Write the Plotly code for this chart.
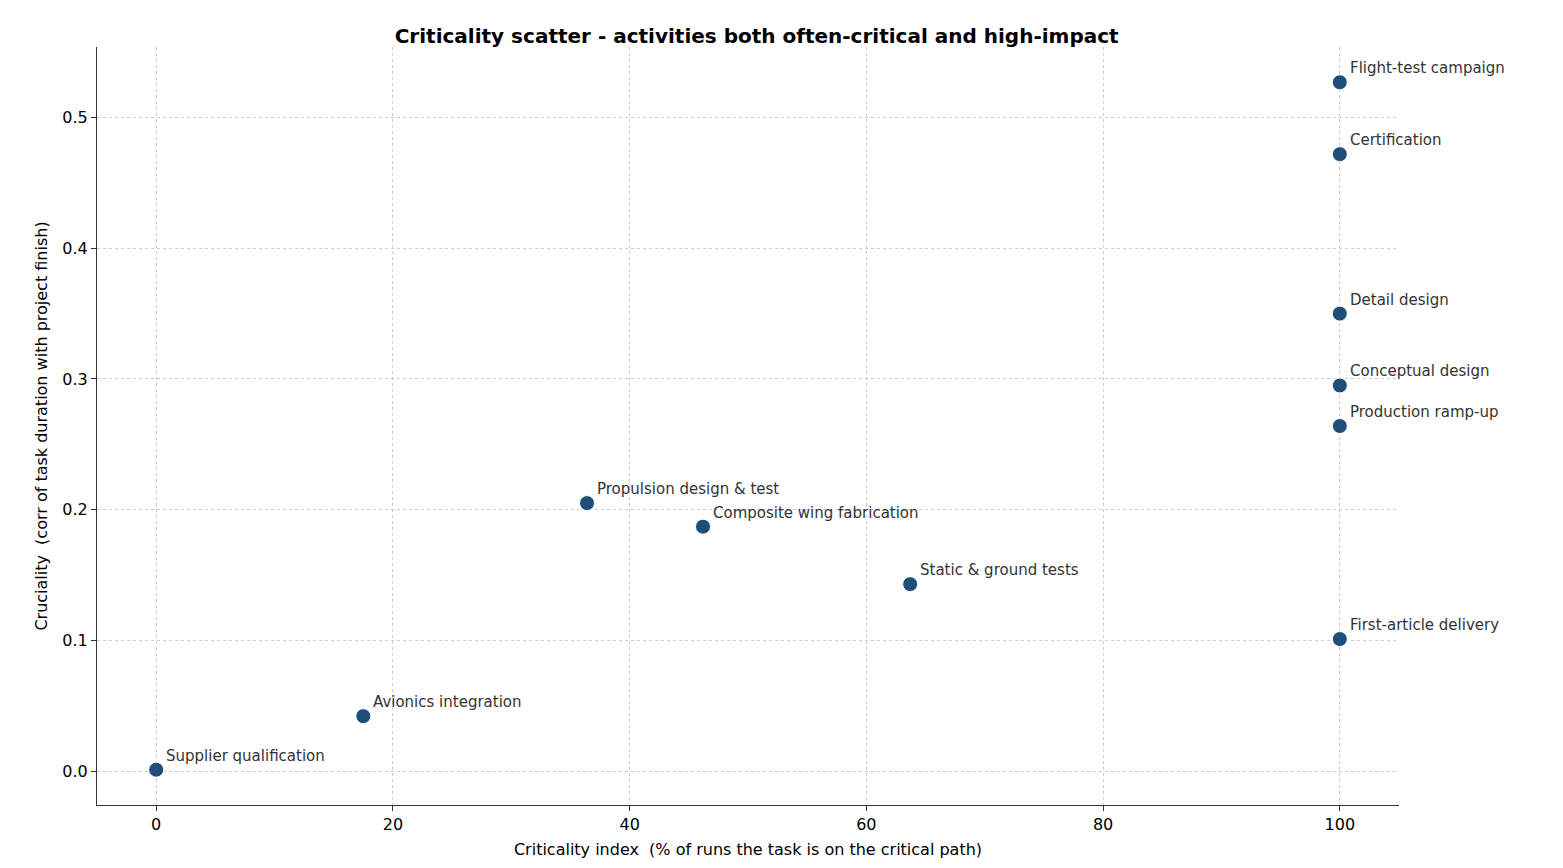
import plotly.graph_objects as go

tasks = ["Supplier qualification", "Avionics integration", "Propulsion design & test",
         "Composite wing fabrication", "Static & ground tests", "First-article delivery",
         "Production ramp-up", "Conceptual design", "Detail design", "Certification",
         "Flight-test campaign"]
crit_index = [0, 17.5, 36.4, 46.2, 63.7, 100, 100, 100, 100, 100, 100]
cruciality = [0.001, 0.042, 0.205, 0.187, 0.143, 0.101, 0.264, 0.295, 0.350, 0.472, 0.527]

fig = go.Figure()
fig.add_trace(go.Scatter(x=crit_index, y=cruciality, mode="markers",
                         marker=dict(size=15, color="#1f4e79", line=dict(color="white", width=1)),
                         hoverinfo="text", text=tasks))

for t, x, y in zip(tasks, crit_index, cruciality):
    fig.add_annotation(x=x, y=y, text=t, showarrow=False, xanchor="left", yanchor="bottom",
                       xshift=8, yshift=3, font=dict(size=15, color="#333333"))

axis = dict(showline=True, linecolor="#333333", ticks="outside", ticklen=5,
            tickcolor="#333333", showgrid=True, gridcolor="#cccccc", griddash="dot",
            zeroline=False, tickfont=dict(size=16, color="black"), automargin=False)

fig.update_layout(
    width=1563, height=868, plot_bgcolor="white", paper_bgcolor="white",
    font=dict(family="DejaVu Sans", color="black"),
    title=dict(text="<b>Criticality scatter - activities both often-critical and high-impact</b>",
               x=0.479, xanchor="center", y=0.968, yanchor="middle", font=dict(size=20)),
    margin=dict(l=89, r=172, t=39, b=71),
    showlegend=False,
    xaxis=dict(axis, range=[-5, 105], tickvals=[0, 20, 40, 60, 80, 100],
               title=dict(text="Criticality index  (% of runs the task is on the critical path)",
                          font=dict(size=16), standoff=10)),
    yaxis=dict(axis, range=[-0.026, 0.554], tickvals=[0, 0.1, 0.2, 0.3, 0.4, 0.5],
               tickformat=".1f",
               title=dict(text="Cruciality  (corr of task duration with project finish)",
                          font=dict(size=16), standoff=10)),
)

fig.write_html("out.html")
